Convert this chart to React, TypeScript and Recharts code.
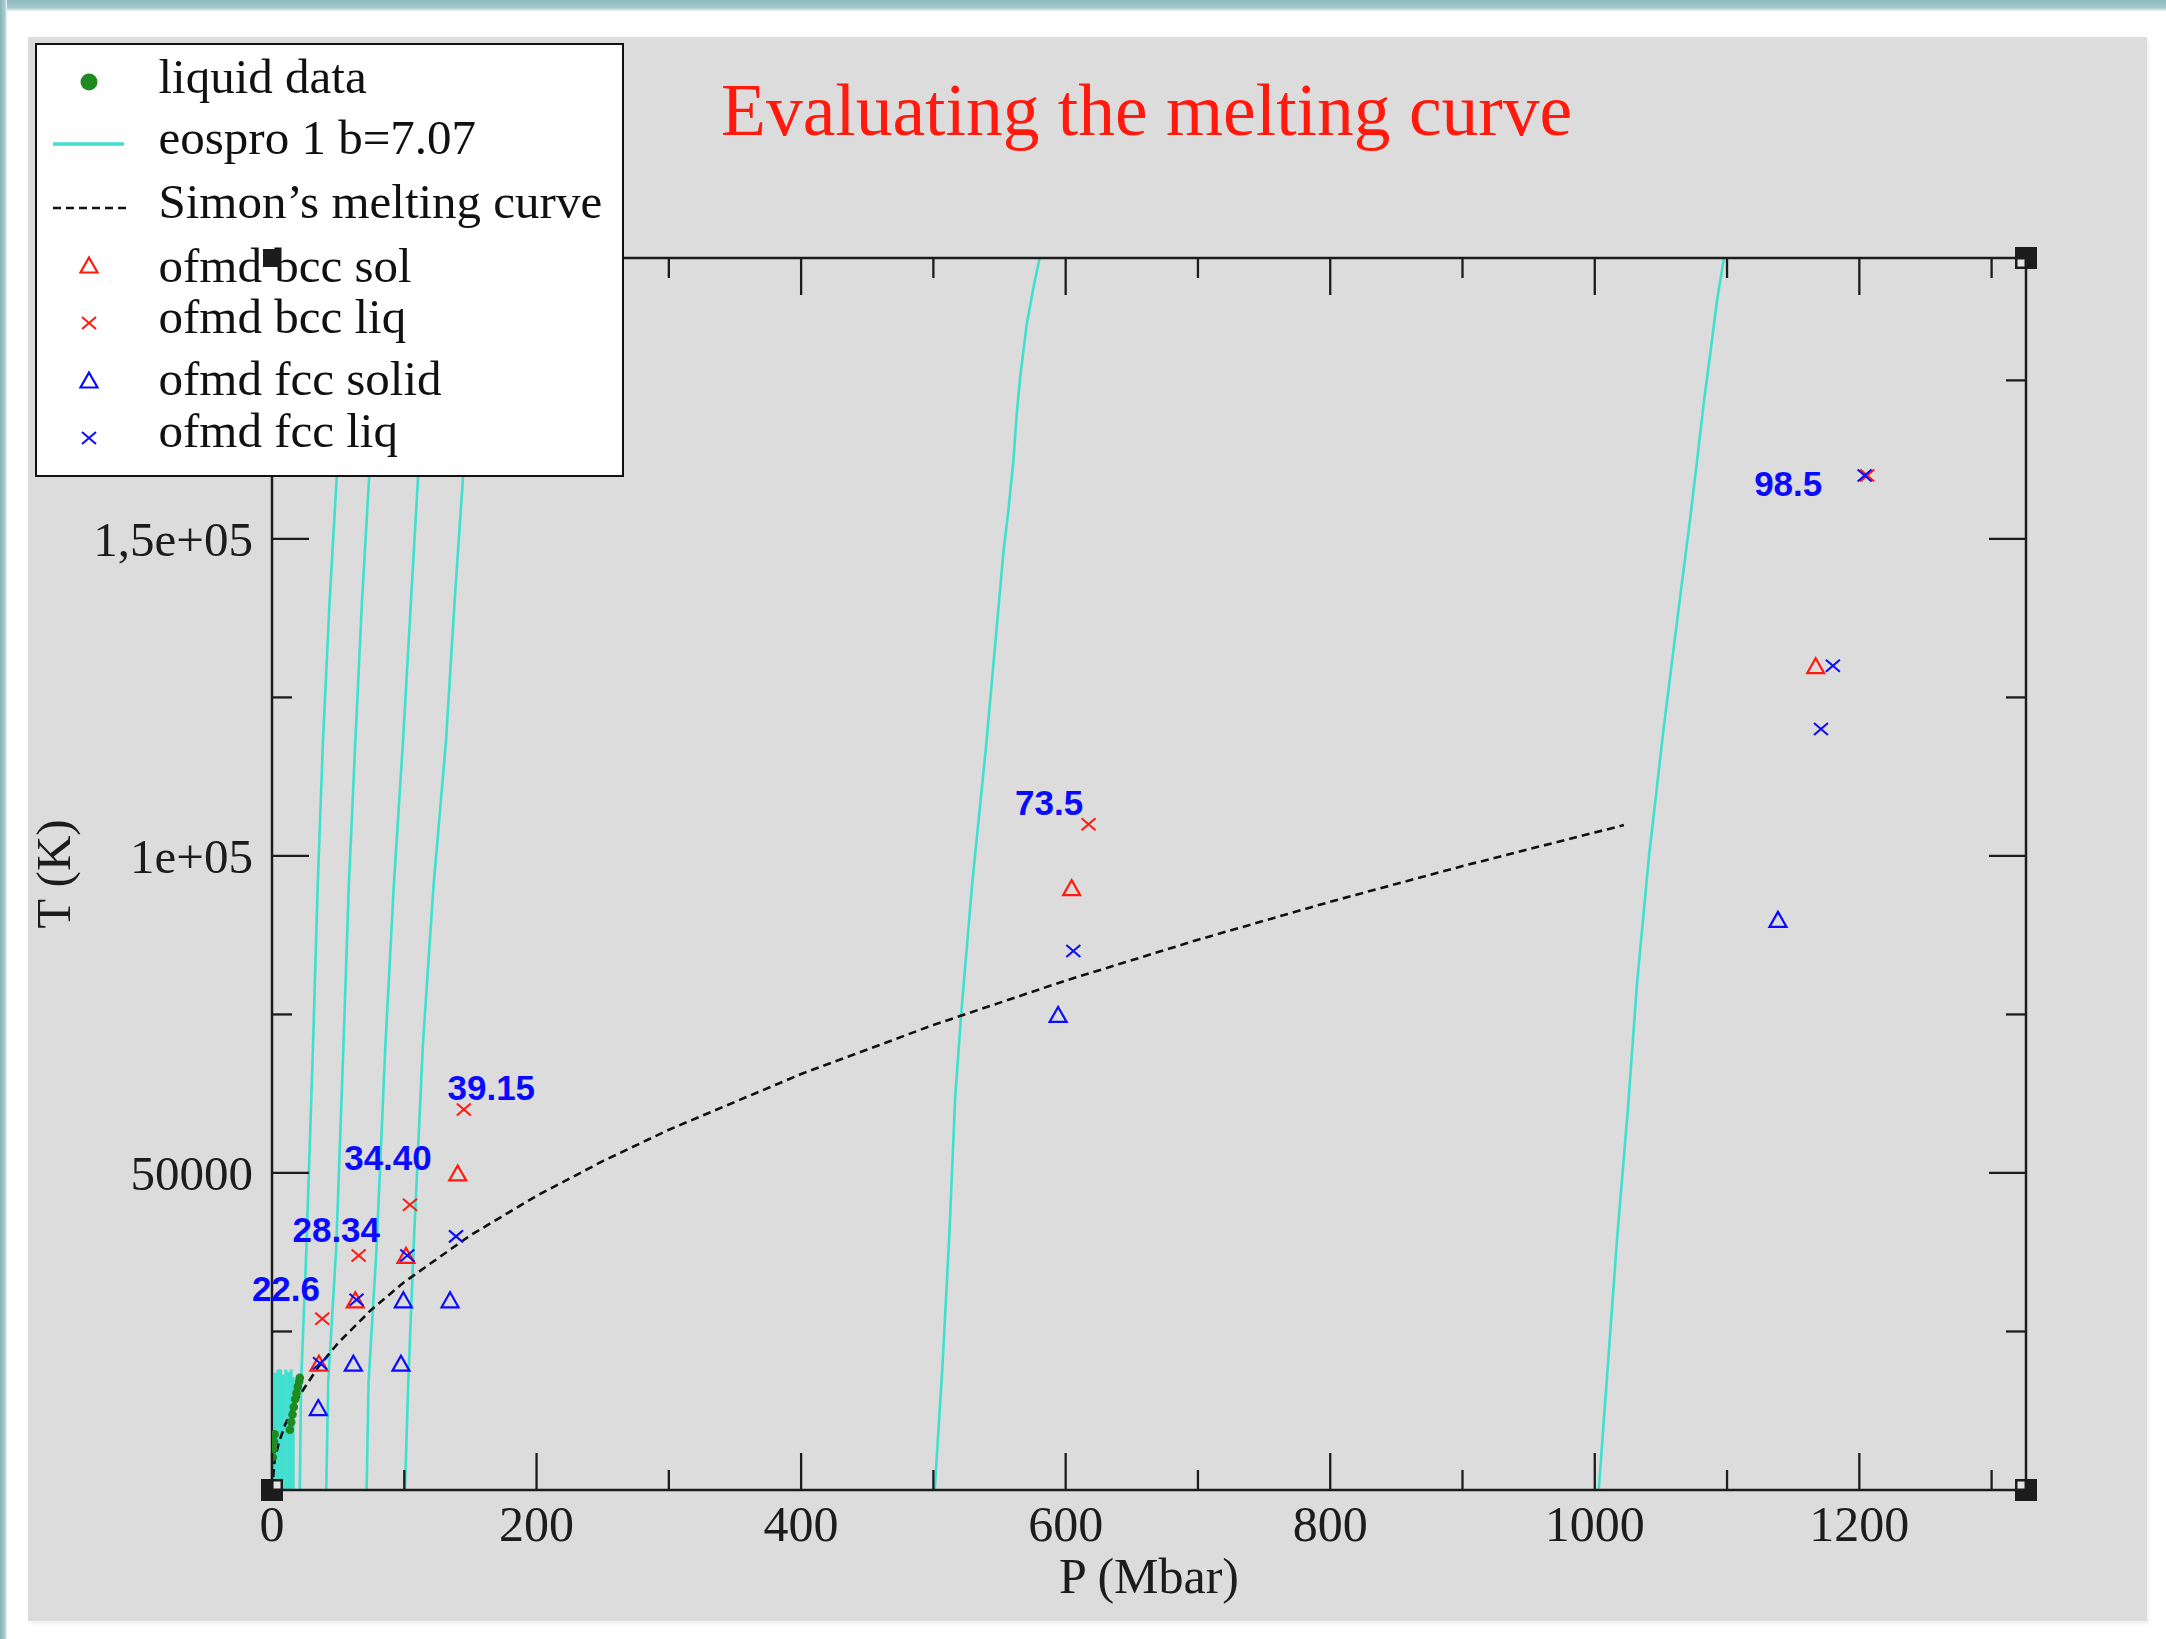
import React from 'react';
import { ComposedChart, Line, Scatter, XAxis, YAxis, Legend, ReferenceDot } from 'recharts';

const W = 2166;
const H = 1639;

const xDomain: [number, number] = [0, 1326];
const yDomain: [number, number] = [0, 194300];

const xMajorTicks = [0, 200, 400, 600, 800, 1000, 1200];
const xTickLabels = ['0', '200', '400', '600', '800', '1000', '1200'];
const xMinorTicks = [100, 300, 500, 700, 900, 1100, 1300];
const yMajorTicks = [50000, 100000, 150000];
const yTickLabels = ['50000', '1e+05', '1,5e+05'];
const yMinorTicks = [25000, 75000, 125000, 175000];

const xLabel = 'P (Mbar)';
const yLabel = 'T (K)';
const title = 'Evaluating the melting curve';

// Simon's melting curve
const simonP = [0, 2, 5, 10, 20, 35, 50, 75, 100, 150, 200, 250, 300, 400, 500, 600, 700, 800, 900, 1000, 1022];
const simonT = [0, 4640, 7330, 10370, 14670, 19400, 23190, 28410, 32800, 40170, 46390, 51860, 56810, 65600, 73340, 80340, 86780, 92770, 98400, 103700, 104860];

// eospro 1 b=7.07 isochores
const isoLowT = [0, 17000, 38000, 70000, 95000, 118000, 140000, 160000, 176000, 194700];
const iso1P = [21, 22, 26, 31, 34.5, 38.5, 43.5, 49, 53, 58];
const iso2P = [41, 42.5, 48.5, 54, 58, 63, 68, 73.5, 78, 83];
const iso3P = [71.5, 73, 79, 85.7, 92, 99, 105, 110.5, 115, 121];
const iso4P = [100.5, 103, 107, 114, 122, 131.5, 138, 144.5, 150, 156];
const iso5P = [501, 507, 512, 516.5, 521, 529.5, 539.7, 553, 556.7, 560.5, 563, 565.6, 570.6, 575.7, 580.7];
const iso5T = [0, 20000, 40000, 62000, 75000, 96000, 117000, 148000, 154500, 162300, 169700, 175500, 183900, 189700, 194700];
const iso6P = [1003, 1010, 1017, 1025, 1032, 1041, 1052, 1064, 1072, 1077.3, 1082.3, 1087.3, 1092.4, 1098];
const iso6T = [0, 20000, 40000, 60000, 80000, 100000, 120000, 140000, 153000, 162300, 171300, 179200, 187600, 194700];
const isoShortP = [2.5, 4.5, 6.5, 8.5, 10.5, 12.5, 14.5, 16];
const isoShortTop = [18500, 19000, 19000, 18200, 19000, 18600, 19000, 17800];

// liquid data
const liquidP = [0.5, 1, 1.5, 2, 13.5, 14.5, 15.5, 16.5, 17.5, 18.5, 19.5, 20.5, 21];
const liquidT = [5200, 6400, 7600, 8800, 9500, 10700, 11900, 13100, 14300, 15300, 16300, 17100, 17700];

// ofmd points
const bccSolP = [35.5, 63, 101.3, 140.4, 604.5, 1167];
const bccSolT = [20000, 30000, 37000, 50000, 95000, 130000];
const bccLiqP = [38, 65.5, 104.3, 145, 617.3, 1206];
const bccLiqT = [27000, 37000, 45000, 60000, 105000, 160000];
const fccSolP = [35, 61.5, 97.5, 99.3, 134.6, 594.3, 1138.5];
const fccSolT = [13000, 20000, 20000, 30000, 30000, 75000, 90000];
const fccLiqP = [36.3, 63.9, 102.3, 139.1, 605.8, 1171, 1180, 1204];
const fccLiqT = [20000, 30000, 37000, 40000, 85000, 120000, 130000, 160000];

// annotations (anchored at right end / baseline)
const groupLabels = ['22.6', '28.34', '34.40', '39.15', '73.5', '98.5'];
const groupLabelP = [36.3, 81.7, 120.8, 198.9, 613.2, 1172];
const groupLabelT = [29800, 39100, 50500, 61500, 106500, 156800];

const legendLabels = ['liquid data', 'eospro 1 b=7.07', 'Simon\u2019s melting curve', 'ofmd bcc sol', 'ofmd bcc liq', 'ofmd fcc solid', 'ofmd fcc liq'];

const RED = '#ff1a0d';
const BLUE = '#0a0aff';
const CYAN = '#40e0d0';
const GREEN = '#1f8a1f';
const INK = '#1c1c1c';
const SERIF = '"Liberation Serif", "Times New Roman", serif';
const SANS = '"Liberation Sans", Arial, sans-serif';

const toPts = (xs: number[], ys: number[]) => xs.map((x, i) => ({ x, y: ys[i] }));

const simonData = toPts(simonP, simonT);
const isoLines = [
  toPts(iso1P, isoLowT),
  toPts(iso2P, isoLowT),
  toPts(iso3P, isoLowT),
  toPts(iso4P, isoLowT),
  toPts(iso5P, iso5T),
  toPts(iso6P, iso6T),
];
const isoShortLines = isoShortP.map((p, i) => [{ x: p, y: 0 }, { x: p, y: isoShortTop[i] }]);
const liquidData = toPts(liquidP, liquidT);
const bccSolData = toPts(bccSolP, bccSolT);
const bccLiqData = toPts(bccLiqP, bccLiqT);
const fccSolData = toPts(fccSolP, fccSolT);
const fccLiqData = toPts(fccLiqP, fccLiqT);
const labelData = groupLabels.map((label, i) => ({ x: groupLabelP[i], y: groupLabelT[i], label }));

const xTicks = [...xMajorTicks, ...xMinorTicks].sort((a, b) => a - b);
const yTicks = [...yMajorTicks, ...yMinorTicks].sort((a, b) => a - b);

function triPath(cx: number, cy: number, color: string) {
  const w = 17, h = 15;
  return (
    <path
      d={`M${cx},${cy - h / 2} L${cx + w / 2},${cy + h / 2} L${cx - w / 2},${cy + h / 2} Z`}
      fill="none" stroke={color} strokeWidth={2.2} strokeLinejoin="miter"
    />
  );
}
function crossPath(cx: number, cy: number, color: string) {
  const a = 7, b = 6;
  return (
    <path d={`M${cx - a},${cy - b} L${cx + a},${cy + b} M${cx - a},${cy + b} L${cx + a},${cy - b}`}
      stroke={color} strokeWidth={2} fill="none" />
  );
}
const triShape = (color: string) => (p: any) => (p.cx == null ? <g /> : triPath(p.cx, p.cy, color));
const crossShape = (color: string) => (p: any) => (p.cx == null ? <g /> : crossPath(p.cx, p.cy, color));
const dotShape = (p: any) => (p.cx == null ? <g /> : <circle cx={p.cx} cy={p.cy} r={4.3} fill={GREEN} />);
const labelShape = (text: string) => (p: any) =>
  p.cx == null ? <g /> : (
    <text x={p.cx} y={p.cy} textAnchor="end" fontFamily={SANS} fontWeight="bold" fontSize={35} fill={BLUE}>
      {text}
    </text>
  );

function makeTick(orient: 'bottom' | 'top' | 'left' | 'right') {
  return (props: any) => {
    const { x, y, payload } = props;
    const v = payload.value;
    const isX = orient === 'bottom' || orient === 'top';
    const majors = isX ? xMajorTicks : yMajorTicks;
    const labels = isX ? xTickLabels : yTickLabels;
    const i = majors.indexOf(v);
    const len = i >= 0 ? 37 : 20;
    let x2 = x, y2 = y;
    if (orient === 'bottom') y2 = y - len;
    else if (orient === 'top') y2 = y + len;
    else if (orient === 'left') x2 = x + len;
    else x2 = x - len;
    return (
      <g>
        <line x1={x} y1={y} x2={x2} y2={y2} stroke={INK} strokeWidth={2.3} />
        {i >= 0 && orient === 'bottom' && (
          <text x={x} y={y + 51} textAnchor="middle" fontFamily={SERIF} fontSize={50} fill={INK}>{labels[i]}</text>
        )}
        {i >= 0 && orient === 'left' && (
          <text x={x - 19} y={y + 17} textAnchor="end" fontFamily={SERIF} fontSize={49} fill={INK}>{labels[i]}</text>
        )}
      </g>
    );
  };
}

const cornerShape = (sx: number, sy: number) => (p: any) =>
  p.cx == null ? <g /> : (
    <g>
      <rect x={p.cx - 11} y={p.cy - 11} width={22} height={22} fill={INK} />
      <rect x={sx > 0 ? p.cx + 1.5 : p.cx - 8.5} y={sy > 0 ? p.cy + 1.5 : p.cy - 8.5} width={7} height={7} fill="#e6e6e6" />
    </g>
  );

function LegendContent() {
  const textY = [50, 111, 175, 239, 290, 352, 404];
  const symY = [39, 101, 165, 222, 280, 337, 395];
  return (
    <div style={{ position: 'relative', width: 589, height: 434, background: '#fff', boxSizing: 'border-box', border: '2.5px solid #111' }}>
      <svg width={589} height={434} style={{ position: 'absolute', left: -2.5, top: -2.5, overflow: 'visible' }}>
        <circle cx={54} cy={symY[0]} r={8.5} fill={GREEN} />
        <line x1={18} x2={89} y1={symY[1]} y2={symY[1]} stroke={CYAN} strokeWidth={3.5} />
        <line x1={18} x2={91} y1={symY[2]} y2={symY[2]} stroke="#111" strokeWidth={2.5} strokeDasharray="8 5" />
        {triPath(54, symY[3], RED)}
        {crossPath(54, symY[4], RED)}
        {triPath(54, symY[5], BLUE)}
        {crossPath(54, symY[6], BLUE)}
        {legendLabels.map((t, i) => (
          <text key={i} x={123.5} y={textY[i]} fontFamily={SERIF} fontSize={49} fill="#111">{t}</text>
        ))}
        <rect x={237 - 9} y={215 - 9} width={18} height={18} fill={INK} />
      </svg>
    </div>
  );
}

export default function App() {
  return (
    <div style={{ position: 'absolute', left: 0, top: 0, width: W, height: H, background: '#fff', overflow: 'hidden' }}>
      <div style={{ position: 'absolute', left: 0, top: 0, width: W, height: 11, background: 'linear-gradient(to bottom, #8dbabc, #a4cbcc 70%, #eef5f5)' }} />
      <div style={{ position: 'absolute', left: 0, top: 0, width: 7, height: H, background: 'linear-gradient(to right, #86b3b6, #a9cdce 70%, #f2f7f7)' }} />
      <div style={{ position: 'absolute', left: 28, top: 37, width: 2119, height: 1584, background: '#dcdcdc', boxShadow: '2px 3px 3px rgba(0,0,0,0.06)' }} />
      <div style={{ position: 'absolute', left: 0, top: 0 }}>
        <ComposedChart width={W} height={H} margin={{ top: 198, right: 80, bottom: 49, left: 72 }}>
          <XAxis
            xAxisId={0} dataKey="x" type="number" domain={xDomain} allowDataOverflow ticks={xTicks} interval={0}
            orientation="bottom" height={100} tickSize={0} tickMargin={0} tickLine={false}
            axisLine={{ stroke: INK, strokeWidth: 2.5 }} tick={makeTick('bottom')}
            label={(props: any) => {
              const vb = props.viewBox || {};
              return (
                <text x={vb.x + vb.width / 2} y={vb.y + 103} textAnchor="middle" fontFamily={SERIF} fontSize={50} fill={INK}>{xLabel}</text>
              );
            }}
          />
          <XAxis
            xAxisId="top" dataKey="x" type="number" domain={xDomain} allowDataOverflow ticks={xTicks} interval={0}
            orientation="top" height={60} tickSize={0} tickMargin={0} tickLine={false}
            axisLine={{ stroke: INK, strokeWidth: 2.5 }} tick={makeTick('top')}
          />
          <YAxis
            yAxisId={0} dataKey="y" type="number" domain={yDomain} allowDataOverflow ticks={yTicks} interval={0}
            orientation="left" width={200} tickSize={0} tickMargin={0} tickLine={false}
            axisLine={{ stroke: INK, strokeWidth: 2.5 }} tick={makeTick('left')}
            label={(props: any) => {
              const vb = props.viewBox || {};
              const px = vb.x + vb.width - 202;
              const py = vb.y + vb.height / 2;
              return (
                <text x={px} y={py} transform={`rotate(-90, ${px}, ${py})`} textAnchor="middle" fontFamily={SERIF} fontSize={49} fill={INK}>{yLabel}</text>
              );
            }}
          />
          <YAxis
            yAxisId="right" dataKey="y" type="number" domain={yDomain} allowDataOverflow ticks={yTicks} interval={0}
            orientation="right" width={60} tickSize={0} tickMargin={0} tickLine={false}
            axisLine={{ stroke: INK, strokeWidth: 2.5 }} tick={makeTick('right')}
          />

          <Line xAxisId="top" yAxisId="right" data={simonData} dataKey="y" stroke="none" dot={false} legendType="none" isAnimationActive={false} />

          {isoShortLines.map((d, i) => (
            <Line key={`s${i}`} data={d} dataKey="y" type="linear" stroke={CYAN} strokeWidth={3} dot={false} isAnimationActive={false} legendType="none" />
          ))}
          {isoLines.map((d, i) => (
            <Line key={`iso${i}`} data={d} dataKey="y" type="linear" stroke={CYAN} strokeWidth={2.6} dot={false} isAnimationActive={false} legendType="none" />
          ))}

          <Scatter data={liquidData} dataKey="y" shape={dotShape} isAnimationActive={false} legendType="none" />

          <Line data={simonData} dataKey="y" type="linear" stroke="#111" strokeWidth={2.6} strokeDasharray="8 5" dot={false} isAnimationActive={false} legendType="none" />

          <Scatter data={bccSolData} dataKey="y" shape={triShape(RED)} isAnimationActive={false} legendType="none" />
          <Scatter data={bccLiqData} dataKey="y" shape={crossShape(RED)} isAnimationActive={false} legendType="none" />
          <Scatter data={fccSolData} dataKey="y" shape={triShape(BLUE)} isAnimationActive={false} legendType="none" />
          <Scatter data={fccLiqData} dataKey="y" shape={crossShape(BLUE)} isAnimationActive={false} legendType="none" />

          {labelData.map((d, i) => (
            <ReferenceDot key={`lab${i}`} x={d.x} y={d.y} r={1} ifOverflow="visible" shape={labelShape(d.label)} />
          ))}

          <ReferenceDot x={xDomain[0]} y={yDomain[0]} r={11} ifOverflow="visible" shape={cornerShape(1, -1)} />
          <ReferenceDot x={xDomain[1]} y={yDomain[0]} r={11} ifOverflow="visible" shape={cornerShape(-1, -1)} />
          <ReferenceDot x={xDomain[1]} y={yDomain[1]} r={11} ifOverflow="visible" shape={cornerShape(-1, 1)} />

          <Legend
            layout="vertical" align="center" verticalAlign="middle"
            content={() => <LegendContent />}
            wrapperStyle={{ left: 35, top: 43, width: 589, height: 434 }}
          />
        </ComposedChart>
      </div>
      <svg width={W} height={H} style={{ position: 'absolute', left: 0, top: 0, pointerEvents: 'none' }}>
        <text x={721} y={135} fontFamily={SERIF} fontSize={73.5} fill={RED}>{title}</text>
      </svg>
    </div>
  );
}
